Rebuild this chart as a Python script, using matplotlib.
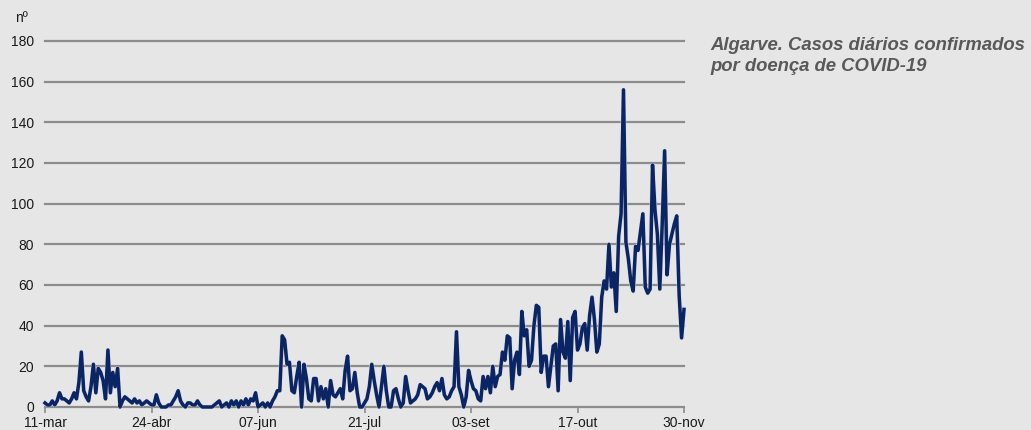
import numpy as np
import matplotlib
matplotlib.use("Agg")
import matplotlib.pyplot as plt
import matplotlib.patheffects as pe

# casos diarios confirmados, Algarve, 11-mar a 30-nov
mar = [2, 1, 1, 3, 1, 3, 7, 4, 4, 3, 2, 4, 7, 4, 12, 27, 8, 5, 3, 10, 21]
abr = [7, 19, 17, 13, 4, 28, 7, 17, 10, 19, 0, 3, 5, 4, 3, 2, 4, 2, 3, 1,
       2, 3, 2, 1, 1, 6, 2, 0, 0, 0]
mai = [1, 1, 3, 5, 8, 3, 1, 0, 2, 2, 1, 1, 3, 1, 0, 0, 0, 0, 0, 1,
       2, 3, 0, 1, 2, 0, 3, 1, 3, 0, 3]
jun = [1, 4, 1, 4, 3, 7, 0, 1, 2, 0, 2, 0, 3, 5, 8, 8, 35, 33, 21, 22,
       8, 7, 15, 22, 0, 21, 14, 4, 3, 14]
jul = [14, 3, 10, 4, 9, 0, 13, 6, 5, 7, 9, 4, 18, 25, 8, 9, 17, 7, 0, 0,
       2, 4, 10, 21, 13, 6, 0, 10, 20, 8, 0]
ago = [0, 8, 9, 4, 0, 2, 15, 8, 2, 3, 4, 6, 11, 10, 9, 4, 5, 7, 10, 12,
       8, 14, 6, 4, 5, 8, 10, 37, 10, 6, 0]
set_ = [5, 18, 13, 9, 8, 4, 3, 15, 9, 15, 7, 20, 10, 15, 16, 27, 23, 35, 34, 9,
        23, 27, 16, 47, 35, 38, 20, 23, 40, 50]
out = [49, 17, 25, 25, 10, 20, 30, 31, 8, 43, 27, 24, 42, 13, 44, 47, 28, 31, 39, 41,
       28, 45, 54, 43, 27, 31, 54, 62, 58, 80, 59]
nov = [66, 47, 84, 95, 156, 81, 73, 62, 57, 79, 77, 86, 95, 59, 56, 58, 119, 97, 85, 58,
       90, 126, 65, 80, 85, 90, 94, 55, 34, 48]

tick_labels = ['11-mar', '24-abr', '07-jun', '21-jul', '03-set', '17-out', '30-nov']
titulo = "Algarve. Casos diários confirmados\npor doença de COVID-19"

casos = np.array(mar + abr + mai + jun + jul + ago + set_ + out + nov)
dias = np.arange(len(casos))

bg = '#e6e6e6'
grid_c = '#8c8c8c'
plt.rcParams['font.family'] = ['Liberation Sans', 'DejaVu Sans']

fig = plt.figure(figsize=(10.31, 4.30), dpi=100, facecolor=bg)
ax = fig.add_axes([45/1031, 23/430, 639/1031, 366/430], facecolor=bg)

for v in range(0, 181, 20):
    ax.axhline(v, color=grid_c, lw=1.6, zorder=1, clip_on=False)

ax.plot(dias, casos, color='#0a2464', lw=2.5, zorder=3, clip_on=False,
        solid_joinstyle='round',
        path_effects=[pe.Stroke(linewidth=3.1, foreground='#d4d8e4'), pe.Normal()])

ax.set_xlim(0, len(casos) - 1)
ax.set_ylim(0, 180)
ax.set_yticks(range(0, 181, 20))
ax.set_xticks(dias[::44])
ax.set_xticklabels(tick_labels)
ax.tick_params(axis='y', length=0, pad=8, labelsize=10, labelcolor='#1a1a1a')
ax.tick_params(axis='x', length=4, width=1.2, color=grid_c, pad=2.5,
               labelsize=10, labelcolor='#1a1a1a')
for s in ax.spines.values():
    s.set_visible(False)

fig.text(15/1031, 1 - 18/430, 'nº', fontsize=10, color='#1a1a1a', va='center')
fig.text(710/1031, 1 - 37/430, titulo, fontsize=13.3, fontweight='bold',
         fontstyle='italic', color='#595959', va='top', linespacing=1.3)

fig.savefig('out.png', dpi=100, facecolor=bg)
